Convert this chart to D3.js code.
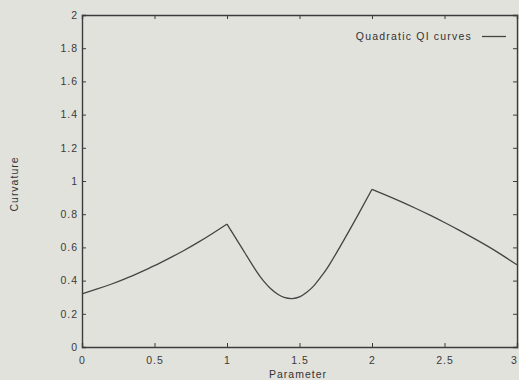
<!DOCTYPE html>
<html>
<head>
<meta charset="utf-8">
<script src="https://cdn.jsdelivr.net/npm/d3@7"></script>
<style>
  body { margin: 0; background: #e2e2dc; }
  svg { display: block; font-family: "Liberation Sans", Arial, sans-serif; }
  .tick text { fill: #3a3a3a; font-size: 10.5px; letter-spacing: 1px; }
</style>
</head>
<body>
<script>
// Constants
const WIDTH = 519;
const HEIGHT = 380;
const MARGIN = {top: 15, right: 2, bottom: 33, left: 82};
const INK = "#3c3c3c";

// Data: three pieces joined at parameter 1 and 2
const paramA = [0, 0.1, 0.2, 0.3, 0.4, 0.5, 0.6, 0.7, 0.8, 0.9, 1.0];
const curveA = [0.32, 0.348, 0.378, 0.412, 0.45, 0.49, 0.534, 0.58, 0.63, 0.684, 0.74];
const paramB = [1.0, 1.1, 1.2, 1.25, 1.3, 1.35, 1.4, 1.45, 1.5, 1.55, 1.6, 1.65, 1.7, 1.8, 1.9, 2.0];
const curveB = [0.74, 0.60, 0.46, 0.40, 0.352, 0.318, 0.297, 0.292, 0.302, 0.33, 0.37, 0.425, 0.487, 0.635, 0.79, 0.95];
const paramC = [2.0, 2.1, 2.2, 2.3, 2.4, 2.5, 2.6, 2.7, 2.8, 2.9, 3.0];
const curveC = [0.95, 0.914, 0.876, 0.836, 0.794, 0.75, 0.704, 0.656, 0.606, 0.552, 0.495];

const xTicks = [0, 0.5, 1, 1.5, 2, 2.5, 3];
const yTicks = [0, 0.2, 0.4, 0.6, 0.8, 1, 1.2, 1.4, 1.6, 1.8, 2];
const legendLabel = "Quadratic QI curves";

function main() {
    const svg = d3.select("body").append("svg")
        .attr("width", WIDTH)
        .attr("height", HEIGHT);

    const x = d3.scaleLinear().domain([0, 3]).range([MARGIN.left, WIDTH - MARGIN.right]);
    const y = d3.scaleLinear().domain([0, 2]).range([HEIGHT - MARGIN.bottom, MARGIN.top]);

    // ----- Axes (ticks inward, mirrored like gnuplot) -----
    const bottom = svg.append("g")
        .attr("transform", `translate(0, ${y(0)})`)
        .call(d3.axisBottom(x).tickValues(xTicks).tickSize(-4).tickPadding(10).tickFormat(d3.format("")));
    const left = svg.append("g")
        .attr("transform", `translate(${x(0)}, 0)`)
        .call(d3.axisLeft(y).tickValues(yTicks).tickSize(-4).tickPadding(4).tickFormat(d3.format("")));
    const top = svg.append("g")
        .attr("transform", `translate(0, ${y(2)})`)
        .call(d3.axisTop(x).tickValues(xTicks).tickSize(-4).tickFormat(""));
    const right = svg.append("g")
        .attr("transform", `translate(${x(3)}, 0)`)
        .call(d3.axisRight(y).tickValues(yTicks).tickSize(-4).tickFormat(""));

    [bottom, left, top, right].forEach(g => {
        g.select(".domain").attr("stroke", INK).attr("stroke-width", 1.4);
        g.selectAll(".tick line").attr("stroke", INK);
    });
    // drop the end ticks that sit on the frame corners
    [bottom, top].forEach(g => g.selectAll(".tick line").filter(d => d === 0 || d === 3).remove());
    [left, right].forEach(g => g.selectAll(".tick line").filter(d => d === 0 || d === 2).remove());
    // last x label sits on the page edge; nudge it inside
    bottom.selectAll(".tick text").filter(d => d === 3).attr("dx", -3);

    // ----- Axis titles -----
    svg.append("text")
        .attr("x", 298)
        .attr("y", 378)
        .attr("text-anchor", "middle")
        .attr("font-size", 10.5)
        .attr("letter-spacing", 1)
        .attr("fill", "#333")
        .text("Parameter");
    svg.append("text")
        .attr("transform", `translate(18, ${(y(0) + y(2)) / 2 + 3}) rotate(-90)`)
        .attr("text-anchor", "middle")
        .attr("font-size", 10.5)
        .attr("letter-spacing", 1)
        .attr("fill", "#333")
        .text("Curvature");

    // ----- Curve pieces -----
    const line = d3.line()
        .x(d => x(d[0]))
        .y(d => y(d[1]))
        .curve(d3.curveNatural);
    const pieces = [
        d3.zip(paramA, curveA),
        d3.zip(paramB, curveB),
        d3.zip(paramC, curveC)
    ];
    svg.append("g").selectAll("path")
        .data(pieces)
        .enter()
        .append("path")
            .attr("d", line)
            .attr("fill", "none")
            .attr("stroke", "#444")
            .attr("stroke-width", 1.3)
            .attr("stroke-linejoin", "miter");

    // ----- Legend -----
    const legend = svg.append("g");
    legend.append("text")
        .attr("x", 472)
        .attr("y", 40)
        .attr("text-anchor", "end")
        .attr("font-size", 10.5)
        .attr("letter-spacing", 1.2)
        .attr("fill", "#333")
        .text(legendLabel);
    legend.append("line")
        .attr("x1", 482).attr("x2", 506)
        .attr("y1", 36.5).attr("y2", 36.5)
        .attr("stroke", "#444")
        .attr("stroke-width", 1.3);
}

main();
</script>
</body>
</html>
